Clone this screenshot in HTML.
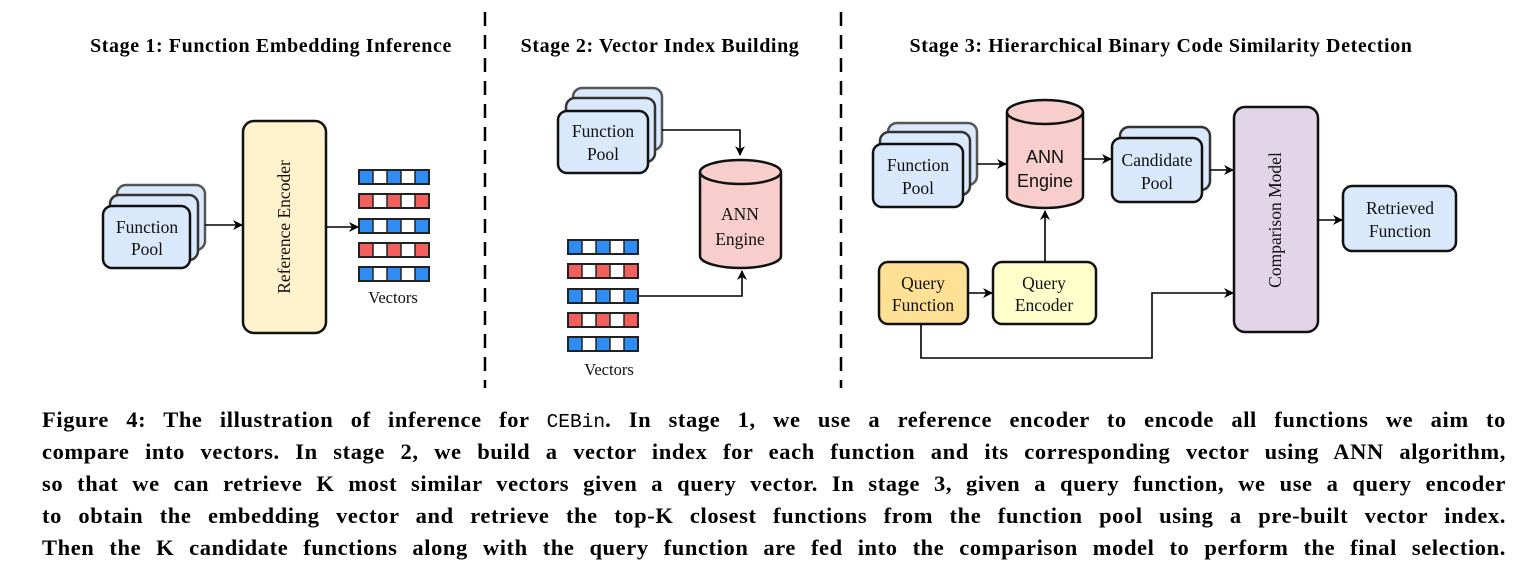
<!DOCTYPE html>
<html><head><meta charset="utf-8"><style>
html,body{margin:0;padding:0;background:#fff;}
body{width:1540px;height:582px;position:relative;overflow:hidden;}
svg{position:absolute;left:0;top:0;}
.cap{position:absolute;left:42px;width:1464px;font-family:"Liberation Serif",serif;font-weight:bold;font-size:22.5px;letter-spacing:0.6px;line-height:32px;text-align:justify;text-align-last:justify;white-space:nowrap;color:#000;}
.cap span.m{font-family:"Liberation Mono",monospace;font-weight:normal;font-size:19.5px;letter-spacing:0;}
</style></head><body>
<svg width="1540" height="400" viewBox="0 0 1540 400" xmlns="http://www.w3.org/2000/svg">
<defs>
<marker id="a" markerWidth="10" markerHeight="10" refX="9" refY="5" orient="auto" markerUnits="userSpaceOnUse"><path d="M0,0 L10,5 L0,10 L3,5 z" fill="#000"/></marker>
<g id="vec"><rect x="0" y="0" width="14" height="14" fill="#2f8cf4"/><rect x="14" y="0" width="14" height="14" fill="#fff"/><rect x="28" y="0" width="14" height="14" fill="#2f8cf4"/><rect x="42" y="0" width="14" height="14" fill="#fff"/><rect x="56" y="0" width="14" height="14" fill="#2f8cf4"/><path d="M14,0V14M28,0V14M42,0V14M56,0V14" stroke="#222" stroke-width="1.5"/><rect x="0" y="0" width="70" height="14" fill="none" stroke="#222" stroke-width="2"/></g>
<g id="vecr"><rect x="0" y="0" width="14" height="14" fill="#f2605e"/><rect x="14" y="0" width="14" height="14" fill="#fff"/><rect x="28" y="0" width="14" height="14" fill="#f2605e"/><rect x="42" y="0" width="14" height="14" fill="#fff"/><rect x="56" y="0" width="14" height="14" fill="#f2605e"/><path d="M14,0V14M28,0V14M42,0V14M56,0V14" stroke="#222" stroke-width="1.5"/><rect x="0" y="0" width="70" height="14" fill="none" stroke="#222" stroke-width="2"/></g>
</defs>
<g font-family="Liberation Serif, serif" font-weight="bold" font-size="20" letter-spacing="0.6" text-anchor="middle">
<text x="271" y="52">Stage 1: Function Embedding Inference</text>
<text x="660" y="52">Stage 2: Vector Index Building</text>
<text x="1161" y="52">Stage 3: Hierarchical Binary Code Similarity Detection</text>
</g>
<g stroke="#000" stroke-width="2.5" stroke-dasharray="14,9"><line x1="485" y1="12" x2="485" y2="388"/><line x1="841" y1="12" x2="841" y2="388"/></g>

<g stroke="#111" stroke-width="2.5" fill="#dae8fc">
<rect x="117" y="185" width="88" height="65" rx="9" stroke="#555"/>
<rect x="110" y="195" width="88" height="65" rx="9" stroke="#333"/>
<rect x="103" y="206" width="87" height="62" rx="9"/>
<rect x="573" y="88" width="89" height="62" rx="9" stroke="#555"/>
<rect x="566" y="98" width="89" height="64" rx="9" stroke="#333"/>
<rect x="558" y="111" width="90" height="62" rx="9"/>
<rect x="888" y="123" width="89" height="62" rx="9" stroke="#555"/>
<rect x="880" y="132" width="90" height="63" rx="9" stroke="#333"/>
<rect x="873" y="144" width="90" height="63" rx="9"/>
<rect x="1120" y="127" width="90" height="63" rx="9" stroke="#333"/>
<rect x="1112" y="138" width="90" height="64" rx="9"/>
<rect x="1343" y="186" width="113" height="65" rx="9"/>
</g>
<rect x="243" y="121" width="83" height="212" rx="11" fill="#fff2cc" stroke="#111" stroke-width="2.5"/>
<rect x="1234" y="107" width="84" height="225" rx="11" fill="#e1d5e7" stroke="#111" stroke-width="2.5"/>
<rect x="879" y="262" width="89" height="62" rx="9" fill="#ffe196" stroke="#111" stroke-width="2.5"/>
<rect x="993" y="262" width="103" height="62" rx="9" fill="#ffffcc" stroke="#111" stroke-width="2.5"/>
<g fill="#f8cecc" stroke="#111" stroke-width="2.5">
<path d="M700,172 V256 A40.5,12 0 0 0 781,256 V172 A40.5,12 0 0 0 700,172 Z"/>
<path d="M700,172 A40.5,12 0 0 0 781,172"/>
<path d="M1007,112 V196 A38,12 0 0 0 1083,196 V112 A38,12 0 0 0 1007,112 Z"/>
<path d="M1007,112 A38,12 0 0 0 1083,112"/>
</g>
<use href="#vec" x="359" y="170"/><use href="#vecr" x="359" y="194"/><use href="#vec" x="359" y="219"/><use href="#vecr" x="359" y="243"/><use href="#vec" x="359" y="267"/>
<use href="#vec" x="568" y="240"/><use href="#vecr" x="568" y="264"/><use href="#vec" x="568" y="289"/><use href="#vecr" x="568" y="313"/><use href="#vec" x="568" y="337"/>
<g stroke="#000" stroke-width="1.6" fill="none" marker-end="url(#a)">
<path d="M205,225 H242"/>
<path d="M326,227 H358"/>
<path d="M662,130 H740 V155"/>
<path d="M638,296 H742 V271"/>
<path d="M977,164 H1006"/>
<path d="M1083,159 H1111"/>
<path d="M1210,170 H1233"/>
<path d="M1318,220 H1342"/>
<path d="M968,293 H992"/>
<path d="M1045,262 V211"/>
<path d="M921,324 V358 H1152 V293 H1233"/>
</g>
<g font-family="Liberation Serif, serif" font-size="17.5" text-anchor="middle" fill="#111">
<text x="147" y="233">Function</text><text x="147" y="255">Pool</text>
<text x="603" y="137">Function</text><text x="603" y="160">Pool</text>
<text x="918" y="171">Function</text><text x="918" y="194">Pool</text>
<text x="1157" y="166">Candidate</text><text x="1157" y="189">Pool</text>
<text x="1400" y="214">Retrieved</text><text x="1400" y="237">Function</text>
<text x="923" y="289">Query</text><text x="923" y="311">Function</text>
<text x="1044" y="289">Query</text><text x="1044" y="311">Encoder</text>
<text x="740" y="220">ANN</text><text x="740" y="245">Engine</text>
<text x="393" y="303" font-size="16.5">Vectors</text>
<text x="609" y="375" font-size="16.5">Vectors</text>
<text transform="translate(290,227) rotate(-90)">Reference Encoder</text>
<text transform="translate(1281,220) rotate(-90)">Comparison Model</text>
</g>
<g font-family="Liberation Sans, sans-serif" font-size="18" text-anchor="middle" fill="#111">
<text x="1045" y="163">ANN</text><text x="1045" y="187">Engine</text>
</g>
</svg>
<div class="cap" style="top:404px">Figure 4: The illustration of inference for <span class="m">CEBin</span>. In stage 1, we use a reference encoder to encode all functions we aim to</div>
<div class="cap" style="top:436px">compare into vectors. In stage 2, we build a vector index for each function and its corresponding vector using ANN algorithm,</div>
<div class="cap" style="top:468px">so that we can retrieve K most similar vectors given a query vector. In stage 3, given a query function, we use a query encoder</div>
<div class="cap" style="top:500px">to obtain the embedding vector and retrieve the top-K closest functions from the function pool using a pre-built vector index.</div>
<div class="cap" style="top:532px">Then the K candidate functions along with the query function are fed into the comparison model to perform the final selection.</div>
</body></html>
